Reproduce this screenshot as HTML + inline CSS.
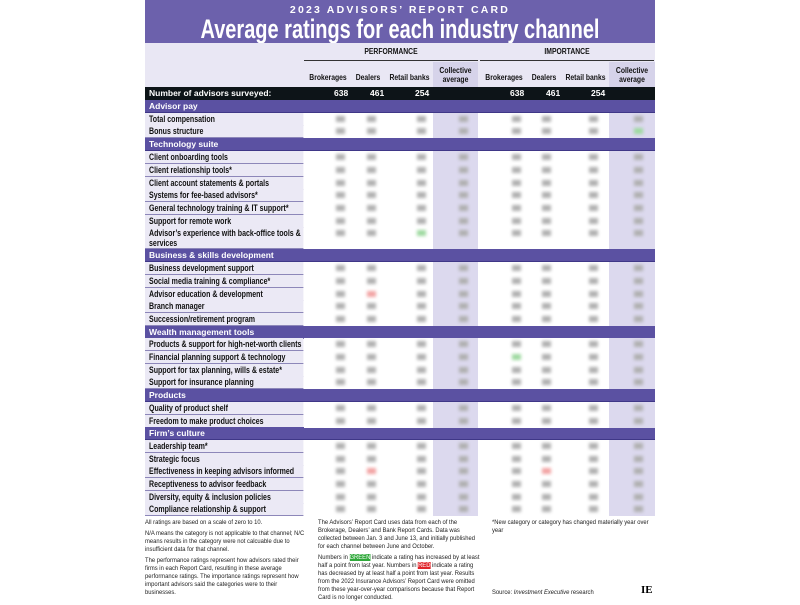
<!DOCTYPE html>
<html><head><meta charset="utf-8"><style>
body{margin:0;width:800px;height:600px;background:#fff;position:relative;overflow:hidden;font-family:"Liberation Sans",sans-serif;}
.a{position:absolute}
.title{left:145px;top:0;width:510px;height:43px;background:#6c61ac;color:#fff;text-align:center;overflow:hidden}
.sub{position:absolute;left:0;right:0;top:4px;font:bold 10.5px "Liberation Sans",sans-serif;letter-spacing:2.2px}
.big{position:absolute;left:-100px;right:-100px;top:14px;font:bold 27px "Liberation Sans",sans-serif;line-height:30px;transform:scaleX(0.74);white-space:nowrap}
.hdr{left:145px;top:43px;width:510px;height:44px;background:#e9e7f4}
.hl{font-weight:bold;font-size:8px;color:#111;text-align:center;line-height:9px;white-space:nowrap;transform:scaleX(.85)}
.blk{left:145px;top:87px;width:510px;height:13px;background:#0d1418;color:#fff;font-weight:bold;font-size:8.5px;line-height:13px}
.sec{left:145px;width:510px;height:13px;background:#5b51a2;color:#fff;font-weight:bold;font-size:8.5px;line-height:13px;border-bottom:1px solid #3f3787;box-sizing:border-box;padding-left:4px}
.lab{left:145px;width:198px;height:13px;background:#ebe9f5;border-bottom:1px solid #8d87b9;box-sizing:border-box;font-weight:bold;font-size:8.8px;line-height:12px;padding-left:5px;color:#111;white-space:nowrap;transform:scaleX(.8);transform-origin:left}
.d{left:304px;width:351px;height:13px;background:linear-gradient(to right,#fff 0,#fff 129px,#dcd9ee 129px,#dcd9ee 174px,#fff 174px,#fff 305px,#dcd9ee 305px)}
.b{position:absolute;top:3px;width:9px;height:6px;background:#b0b0b0;filter:blur(1.5px)}
.ft{font-family:"Liberation Sans",sans-serif;font-size:6.8px;line-height:8px;color:#222;transform:scaleX(.86);transform-origin:left top}
.ft p{margin:0 0 3px 0}
</style></head><body>
<div class="a title"><div class="sub">2023 ADVISORS’ REPORT CARD</div><div class="big">Average ratings for each industry channel</div></div>
<div class="a hdr"></div>
<div class="a hl" style="left:304px;top:47px;width:174px">PERFORMANCE</div>
<div class="a hl" style="left:480px;top:47px;width:174px">IMPORTANCE</div>
<div class="a" style="left:304px;top:60px;width:174px;height:1px;background:#333"></div>
<div class="a" style="left:480px;top:60px;width:174px;height:1px;background:#333"></div>
<div class="a" style="left:433px;top:62px;width:45px;height:25px;background:#d6d3ea"></div>
<div class="a" style="left:609px;top:62px;width:46px;height:25px;background:#d6d3ea"></div>
<div class="a hl" style="left:305px;top:73px;width:46px">Brokerages</div>
<div class="a hl" style="left:353px;top:73px;width:30px">Dealers</div>
<div class="a hl" style="left:386px;top:73px;width:46px">Retail banks</div>
<div class="a hl" style="left:433px;top:66px;width:45px">Collective<br>average</div>
<div class="a hl" style="left:481px;top:73px;width:46px">Brokerages</div>
<div class="a hl" style="left:529px;top:73px;width:30px">Dealers</div>
<div class="a hl" style="left:562px;top:73px;width:46px">Retail banks</div>
<div class="a hl" style="left:609px;top:66px;width:46px">Collective<br>average</div>
<div class="a blk"><span style="padding-left:4px">Number of advisors surveyed:</span>
<span class="a" style="left:189px">638</span><span class="a" style="left:225px">461</span><span class="a" style="left:270px">254</span>
<span class="a" style="left:365px">638</span><span class="a" style="left:401px">461</span><span class="a" style="left:446px">254</span></div>

<div class="a sec" style="top:100px">Advisor pay</div>
<div class="a lab" style="top:113px">Total compensation</div>
<div class="a lab" style="top:125px">Bonus structure</div>
<div class="a sec" style="top:138px">Technology suite</div>
<div class="a lab" style="top:151px">Client onboarding tools</div>
<div class="a lab" style="top:164px">Client relationship tools*</div>
<div class="a lab" style="top:177px">Client account statements &amp; portals</div>
<div class="a lab" style="top:189px">Systems for fee-based advisors*</div>
<div class="a lab" style="top:202px">General technology training &amp; IT support*</div>
<div class="a lab" style="top:215px">Support for remote work</div>
<div class="a lab" style="top:227px;height:22px;line-height:10px;padding-top:1px">Advisor’s experience with back-office tools &amp;<br>services</div>
<div class="a sec" style="top:249px">Business &amp; skills development</div>
<div class="a lab" style="top:262px">Business development support</div>
<div class="a lab" style="top:275px">Social media training &amp; compliance*</div>
<div class="a lab" style="top:288px">Advisor education &amp; development</div>
<div class="a lab" style="top:300px">Branch manager</div>
<div class="a lab" style="top:313px">Succession/retirement program</div>
<div class="a sec" style="top:326px">Wealth management tools</div>
<div class="a lab" style="top:338px">Products &amp; support for high-net-worth clients</div>
<div class="a lab" style="top:351px">Financial planning support &amp; technology</div>
<div class="a lab" style="top:364px">Support for tax planning, wills &amp; estate*</div>
<div class="a lab" style="top:376px">Support for insurance planning</div>
<div class="a sec" style="top:389px">Products</div>
<div class="a lab" style="top:402px">Quality of product shelf</div>
<div class="a lab" style="top:415px">Freedom to make product choices</div>
<div class="a sec" style="top:427px">Firm’s culture</div>
<div class="a lab" style="top:440px">Leadership team*</div>
<div class="a lab" style="top:453px">Strategic focus</div>
<div class="a lab" style="top:465px">Effectiveness in keeping advisors informed</div>
<div class="a lab" style="top:478px">Receptiveness to advisor feedback</div>
<div class="a lab" style="top:491px">Diversity, equity &amp; inclusion policies</div>
<div class="a lab" style="top:503px">Compliance relationship &amp; support</div>
<div id="data"></div>

<div class="a ft" style="left:145px;top:519px;width:186px"><p>All ratings are based on a scale of zero to 10.</p><p>N/A means the category is not applicable to that channel; N/C means results in the category were not calcuable due to insufficient data for that channel.</p><p>The performance ratings represent how advisors rated their firms in each Report Card, resulting in these average performance ratings. The importance ratings represent how important advisors said the categories were to their businesses.</p></div>
<div class="a ft" style="left:318px;top:519px;width:188px"><p>The Advisors’ Report Card uses data from each of the Brokerage, Dealers’ and Bank Report Cards. Data was collected between Jan. 3 and June 13, and initially published for each channel between June and October.</p><p>Numbers in <span style="background:#2fa83a;color:#fff">GREEN</span> indicate a rating has increased by at least half a point from last year. Numbers in <span style="background:#e0252b;color:#fff">RED</span> indicate a rating has decreased by at least half a point from last year. Results from the 2022 Insurance Advisors’ Report Card were omitted from these year-over-year comparisons because that Report Card is no longer conducted.</p></div>
<div class="a ft" style="left:492px;top:519px;width:186px">*New category or category has changed materially year over year</div>
<div class="a ft" style="left:492px;top:589px;width:186px">Source: <i>Investment Executive</i> research</div>
<div class="a" style="left:641px;top:584px;font:bold 11px 'Liberation Serif',serif">IE</div>
<script>
var tops=[113,125,151,164,177,189,202,215,227,262,275,288,300,313,338,351,364,376,402,415,440,453,465,478,491,503];
var xs=[36,67,117,159,212,242,289,334];
var h='';
tops.forEach(function(t,i){
  var hh=(t==227)?22:13;
  h+='<div class="a d" style="top:'+t+'px;height:'+hh+'px">';
  xs.forEach(function(x,j){
    var c='#b0b0b0';
    if(t==227&&j==2)c='#9ed9a0';
    if(t==288&&j==1)c='#f2a3a3';
    if(t==465&&(j==1||j==5))c='#f2a3a3';
    if(t==351&&j==4)c='#9ed9a0';
    if(t==125&&j==7)c='#9ed9a0';
    h+='<div class="b" style="left:'+(x-4)+'px;background:'+c+'"></div>';
  });
  h+='</div>';
});
document.getElementById('data').innerHTML=h;
</script>
</body></html>
